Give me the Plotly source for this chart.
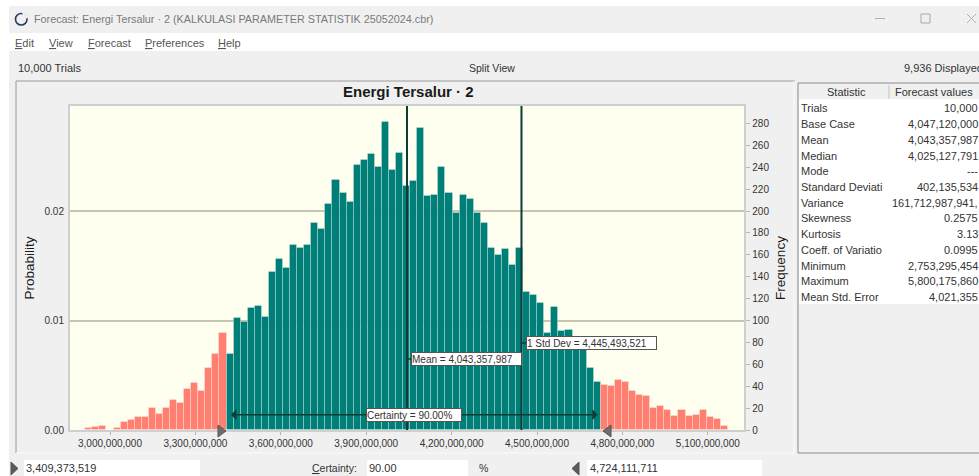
import plotly.graph_objects as go

W, H = 979, 476

# histogram counts, left to right
lower_tail = [2, 3, 4, 0, 2, 7, 9, 12, 12, 20, 15, 20, 27, 25, 37, 43, 36, 57, 69, 89]
certainty_band = [69, 102, 99, 111, 113, 103, 144, 156, 148, 169, 166, 169, 189, 184, 206, 228, 216, 208,
                  242, 247, 252, 240, 281, 237, 253, 223, 227, 276, 214, 215, 240, 216, 198, 215, 211, 198,
                  189, 166, 160, 165, 151, 166, 126, 123, 116, 89, 112, 90, 91, 82, 76, 57, 44]
upper_tail = [41, 40, 46, 44, 36, 32, 31, 20, 22, 18, 13, 18, 13, 14, 18, 12, 10, 4]

cert_low = 3409373519
cert_high = 4724111711
mean_value = 4043357987
std_value = 4445493521
x_ticks = [3000000000, 3300000000, 3600000000, 3900000000, 4200000000, 4500000000, 4800000000, 5100000000]
freq_ticks = [0, 20, 40, 60, 80, 100, 120, 140, 160, 180, 200, 220, 240, 260, 280]
prob_ticks = [0.0, 0.01, 0.02]
trials = 10000

stat_names = ["Trials", "Base Case", "Mean", "Median", "Mode", "Standard Deviati", "Variance", "Skewness",
              "Kurtosis", "Coeff. of Variatio", "Minimum", "Maximum", "Mean Std. Error"]
stat_values = ["10,000", "4,047,120,000", "4,043,357,987", "4,025,127,791", "---", "402,135,534",
               "161,712,987,941,", "0.2575", "3.13", "0.0995", "2,753,295,454", "5,800,175,860", "4,021,355"]
menu_items = [("<u>E</u>dit", 14), ("<u>V</u>iew", 48), ("<u>F</u>orecast", 87),
              ("<u>P</u>references", 144), ("<u>H</u>elp", 217)]

FONT = "Liberation Sans"
TEAL = "#007f78"
SALMON = "#ff7f70"
GREY_BG = "#f0f0f0"

# plot rectangle in window pixels
PL, PR, PT, PB = 70, 744.3, 106, 430
X_PER_PX = 300000000 / 85.4
x_range = [3000000000 - (110 - PL) * X_PER_PX, 3000000000 + (PR - 110) * X_PER_PX]
freq_top = (PB - PT) / 1.095


def px(x):
    return x / W


def py(y):
    return 1 - y / H


def rect(x0, y0, x1, y1, fill, line=None, width=1):
    return dict(type="rect", xref="paper", yref="paper", x0=px(x0), x1=px(x1), y0=py(y0), y1=py(y1),
                fillcolor=fill, line=dict(color=line or fill, width=width if line else 0), layer="below")


def seg(x0, y0, x1, y1, color, width=1, layer="below"):
    return dict(type="line", xref="paper", yref="paper", x0=px(x0), x1=px(x1), y0=py(y0), y1=py(y1),
                line=dict(color=color, width=width), layer=layer)


def tri(points, fill, line="#555555", layer="above"):
    path = "M " + " L ".join(f"{px(a):.5f} {py(b):.5f}" for a, b in points) + " Z"
    return dict(type="path", xref="paper", yref="paper", path=path, fillcolor=fill,
                line=dict(color=line, width=1), layer=layer)


def txt(text, x, y, size=11, color="#333333", anchor="left", **kw):
    return dict(text=text, x=px(x), y=py(y), xref="paper", yref="paper", showarrow=False, xanchor=anchor,
                yanchor="middle", font=dict(family=FONT, size=size, color=color), borderpad=0, **kw)


bin_width = (cert_high - cert_low) / len(certainty_band)
lower_x = [cert_low - (len(lower_tail) - i - 0.5) * bin_width for i in range(len(lower_tail))]
band_x = [cert_low + (i + 0.5) * bin_width for i in range(len(certainty_band))]
upper_x = [cert_high + (i + 0.5) * bin_width for i in range(len(upper_tail))]

fig = go.Figure()
# keeps the probability axis alive, the bars sit on the frequency axis
fig.add_trace(go.Scatter(x=x_ticks[:1], y=prob_ticks[:1], yaxis="y", mode="markers",
                         marker=dict(opacity=0), hoverinfo="skip", showlegend=False))
for xs, ys, color in [(lower_x, lower_tail, SALMON), (band_x, certainty_band, TEAL), (upper_x, upper_tail, SALMON)]:
    fig.add_trace(go.Bar(x=xs, y=ys, width=bin_width, yaxis="y2", showlegend=False,
                         marker=dict(color=color, line=dict(color="rgba(255,255,255,0.28)", width=1))))

shapes = [
    rect(0, 0, W, H, "white"),
    rect(9, 51, W, H, GREY_BG),
    rect(9, 6, W, 33, GREY_BG),
    rect(PL, PT, PR, PB, "#fffff0"),
    seg(16, 81, 795, 81, "#9a9a9a"),
    seg(16, 81, 16, 453, "#9a9a9a"),
    seg(16, 453, 795, 453, "#fbfbfb"),
    seg(794, 81, 794, 453, "#fbfbfb"),
    rect(798, 83, W + 4, 453, GREY_BG, "#8a8a8a"),
    rect(799, 99, W, 304, "white"),
    seg(889, 85, 889, 99, "#c4c4c4"),
    rect(24, 460, 200, 476, "white"),
    rect(367, 460, 468, 476, "white"),
    rect(587, 460, 762, 476, "white"),
    # title bar icon and buttons
    dict(type="circle", xref="paper", yref="paper", x0=px(15.5), x1=px(27), y0=py(25), y1=py(13.5),
         line=dict(color="#27405f", width=1.6), layer="below"),
    seg(23, 13, 27.5, 18, GREY_BG, 2.5),
    seg(875, 18.5, 885, 18.5, "#b0b0b0"),
    rect(921, 14, 930, 23, GREY_BG, "#a8a8a8"),
    seg(967, 14, 976, 23, "#b0b0b0"),
    seg(967, 23, 976, 14, "#b0b0b0"),
    # mean and 1 std dev markers
    dict(type="line", xref="x", yref="paper", x0=mean_value, x1=mean_value, y0=py(PB), y1=py(PT),
         line=dict(color="#0e3b38", width=2), layer="above"),
    dict(type="line", xref="x", yref="paper", x0=std_value, x1=std_value, y0=py(PB), y1=py(PT),
         line=dict(color="#0e3b38", width=2), layer="above"),
    dict(type="line", xref="x", yref="paper", x0=mean_value, x1=mean_value + 4 * X_PER_PX, y0=py(359), y1=py(359),
         line=dict(color="#0e3b38", width=1.5), layer="above"),
    dict(type="line", xref="x", yref="paper", x0=std_value, x1=std_value + 5 * X_PER_PX, y0=py(343), y1=py(343),
         line=dict(color="#0e3b38", width=1.5), layer="above"),
    # certainty grabbers
    tri([(218, 425), (218, 437), (226, 431)], "#6e6e6e"),
    tri([(611, 425), (611, 437), (603, 431)], "#6e6e6e"),
    tri([(11, 462), (11, 475), (18, 468.5)], "#5a5a5a", layer="below"),
    tri([(579, 462), (579, 475), (572, 468.5)], "#5a5a5a", layer="below"),
]

annotations = [
    txt("Forecast: Energi Tersalur · 2 (KALKULASI PARAMETER STATISTIK 25052024.cbr)", 33, 19.5, 10.8, "#7a7a7a"),
    txt("<b>Energi Tersalur · 2</b>", 408, 92, 15, "#1a1a1a", anchor="center"),
    txt("10,000 Trials", 17, 68, 11),
    txt("Split View", 492, 68, 10.5, anchor="center"),
    txt("9,936 Displayed", 903, 68, 11),
    txt("Statistic", 846, 92, 11, anchor="center"),
    txt("Forecast values", 934, 92, 11, anchor="center"),
    txt("3,409,373,519", 25, 468, 11),
    txt("<u>C</u>ertainty:", 334, 468, 10.5, anchor="center"),
    txt("90.00", 368, 468, 11),
    txt("%", 483, 468, 10.5, anchor="center"),
    txt("4,724,111,711", 589, 468, 11),
    # value labels on the chart
    dict(text="Mean = 4,043,357,987", x=mean_value, xref="x", xshift=4, y=py(359), yref="paper", showarrow=False,
         xanchor="left", yanchor="middle", width=109, align="left", height=12, bgcolor="white",
         bordercolor="#555555", borderwidth=1, borderpad=0, font=dict(family=FONT, size=10, color="#333333")),
    dict(text="1 Std Dev = 4,445,493,521", x=std_value, xref="x", xshift=5, y=py(343), yref="paper", showarrow=False,
         xanchor="left", yanchor="middle", width=129, align="left", height=12, bgcolor="white",
         bordercolor="#555555", borderwidth=1, borderpad=0, font=dict(family=FONT, size=10, color="#333333")),
    # certainty arrow between the two grabbers
    dict(text="", x=cert_high - 3 * X_PER_PX, y=14, xref="x", yref="y2", axref="x", ayref="y2",
         ax=cert_low + 3 * X_PER_PX, ay=14, showarrow=True, arrowside="end+start", arrowhead=1,
         arrowwidth=1.5, arrowsize=1.2, arrowcolor="#0e3b38"),
    dict(text="Certainty = 90.00%", x=px(366), y=py(415), xref="paper", yref="paper", showarrow=False, xanchor="left",
         yanchor="middle", width=94, align="left", height=12, bgcolor="white", bordercolor="#555555", borderwidth=1,
         borderpad=0, font=dict(family=FONT, size=10, color="#333333")),
]
annotations += [txt(label, x, 43, 11, "#555555") for label, x in menu_items]
row_y = 108.4
for name, value in zip(stat_names, stat_values):
    annotations.append(txt(name, 800, row_y, 11))
    annotations.append(txt(value, W, row_y, 11, anchor="right"))
    row_y += 15.72

fig.update_layout(
    width=W, height=H, autosize=False,
    margin=dict(l=0, r=0, t=0, b=0, pad=0, autoexpand=False),
    paper_bgcolor=GREY_BG, plot_bgcolor="#fffff0",
    barmode="overlay", bargap=0,
    font=dict(family=FONT, size=10, color="#333333"),
    xaxis=dict(domain=[px(PL), px(PR)], range=x_range, tickvals=x_ticks, tickformat=",d", ticks="outside", ticklen=3,
               tickcolor="#b5b5b5", showgrid=False, zeroline=False, showline=True, linecolor="#cfcfcf", linewidth=2,
               mirror=True, tickfont=dict(size=10, color="#333333")),
    yaxis=dict(domain=[py(PB), py(PT)], range=[0, freq_top / trials], tickvals=prob_ticks, tickformat=".2f", side="left",
               showgrid=True, gridcolor="#c8c6b2", gridwidth=1.5, zeroline=False, showline=True, linecolor="#cfcfcf",
               linewidth=2, tickfont=dict(size=10, color="#333333"), ticklabelstandoff=2,
               title=dict(text="Probability", font=dict(size=13.5, color="#1a1a1a"), standoff=7)),
    yaxis2=dict(overlaying="y", side="right", range=[0, freq_top], tickvals=freq_ticks, ticks="outside", ticklen=4,
                tickcolor="#b5b5b5", showgrid=False, zeroline=False, showline=True, linecolor="#cfcfcf", linewidth=2,
                tickfont=dict(size=10, color="#333333"),
                title=dict(text="Frequency", font=dict(size=13.5, color="#1a1a1a"), standoff=7)),
    shapes=shapes,
    annotations=annotations,
)

# the browser's default body margin would push the figure 8px off the window corner
fig.write_html("out.html", config={"displayModeBar": False},
               post_script="document.body.style.margin='0';document.documentElement.style.overflow='hidden';")
